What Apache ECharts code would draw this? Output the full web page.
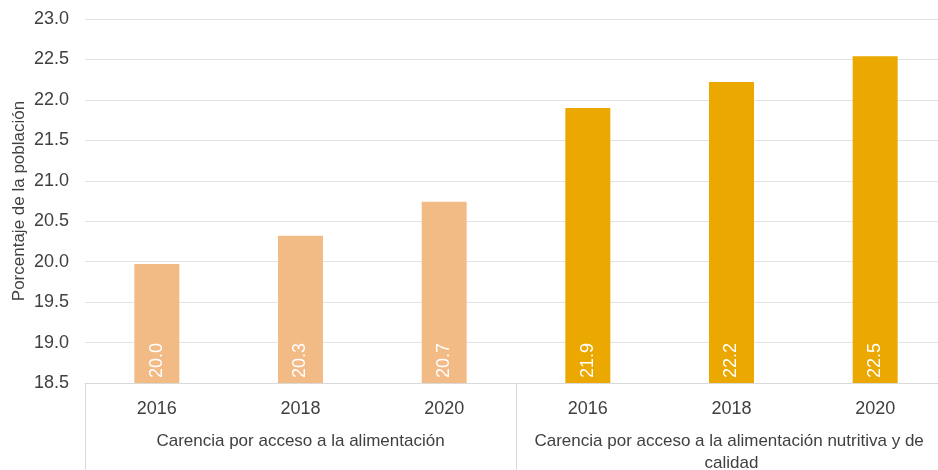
<!DOCTYPE html>
<html>
<head>
<meta charset="utf-8">
<script src="https://cdn.jsdelivr.net/npm/echarts@6/dist/echarts.min.js"></script>
<style>
  html, body { margin: 0; padding: 0; background: #ffffff; }
  #chart { width: 938px; height: 470px; }
</style>
</head>
<body>
<div id="chart"></div>
<script>
// Years shown under each bar
const years = ['2016', '2018', '2020', '2016', '2018', '2020'];
// Indicator groups (second axis level)
const groups = [
  'Carencia por acceso a la alimentación',
  'Carencia por acceso a la alimentación nutritiva y de calidad'
];
// Percentage of the population, per indicator
const accesoAlimentacion = [19.97, 20.32, 20.74];
const accesoNutritiva = [21.90, 22.22, 22.54];
// Y axis range and step
const yMin = 18.5, yMax = 23.0, yStep = 0.5;

const peach = '#F2BA85';
const gold = '#EAA800';

const barData = accesoAlimentacion.map(v => ({ value: v, itemStyle: { color: peach } }))
  .concat(accesoNutritiva.map(v => ({ value: v, itemStyle: { color: gold } })));

const chart = echarts.init(document.getElementById('chart'));
chart.setOption({
  animation: false,
  textStyle: { fontFamily: 'Arial, "Liberation Sans", sans-serif' },
  grid: { left: 85, right: -9, top: 19, bottom: 87, containLabel: false, outerBoundsMode: 'none' },
  xAxis: [
    {
      type: 'category',
      data: years,
      position: 'bottom',
      axisLine: { show: true, lineStyle: { color: '#d9d9d9', width: 1 } },
      axisTick: { show: false },
      axisLabel: { color: '#404040', fontSize: 18, margin: 17, interval: 0 }
    },
    {
      type: 'category',
      data: groups,
      position: 'bottom',
      axisLine: { show: false },
      axisTick: { show: true, interval: 0, length: 90, lineStyle: { color: '#d9d9d9', width: 1 } },
      axisLabel: {
        color: '#404040', fontSize: 17, margin: 47, lineHeight: 22,
        width: 410, overflow: 'break', interval: 0, hideOverlap: false
      }
    }
  ],
  yAxis: {
    type: 'value',
    min: yMin,
    max: yMax,
    interval: yStep,
    name: 'Porcentaje de la población',
    nameLocation: 'middle',
    nameGap: 57,
    nameMoveOverlap: false,
    nameTextStyle: { color: '#404040', fontSize: 17 },
    axisLine: { show: false },
    axisTick: { show: false },
    axisLabel: {
      color: '#404040', fontSize: 18, margin: 16,
      formatter: v => v.toFixed(1)
    },
    splitLine: { lineStyle: { color: '#e3e3e3', width: 1 } }
  },
  series: [{
    type: 'bar',
    xAxisIndex: 0,
    data: barData,
    barWidth: 45,
    label: {
      show: true,
      position: 'insideBottom',
      rotate: 90,
      align: 'left',
      verticalAlign: 'middle',
      distance: 5,
      color: '#ffffff',
      fontSize: 18,
      formatter: p => p.value.toFixed(1)
    }
  }]
});
</script>
</body>
</html>
